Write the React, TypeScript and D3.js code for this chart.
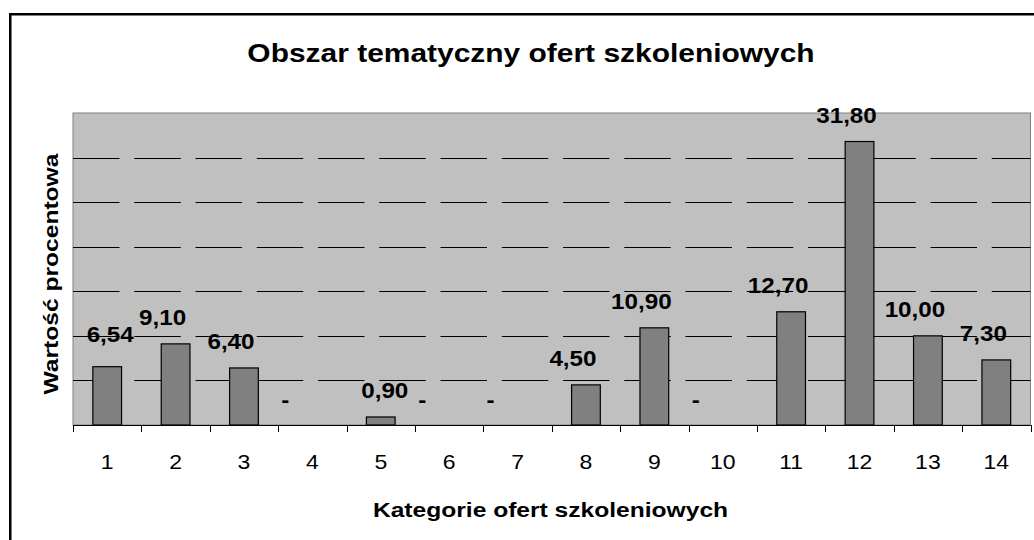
import * as d3 from "d3";
import { useEffect, useRef } from "react";

const categories = ["1", "2", "3", "4", "5", "6", "7", "8", "9", "10", "11", "12", "13", "14"];
const percentValues = [6.54, 9.1, 6.4, 0, 0.9, 0, 0, 4.5, 10.9, 0, 12.7, 31.8, 10.0, 7.3];
const yTicks = [5, 10, 15, 20, 25, 30];

const chartTitle = "Obszar tematyczny ofert szkoleniowych";
const xTitle = "Kategorie ofert szkoleniowych";
const yTitle = "Wartość procentowa";

// hand-moved labels in the original (dx, dy relative to default spot)
const labelNudges: Record<string, [number, number]> = { "1": [16, -6], "5": [17, 0] };

const W = 1034;
const H = 540;
const FONT = "Arial, 'Liberation Sans', sans-serif";

const fmt = (v: number) => (v === 0 ? "-" : v.toFixed(2).replace(".", ","));

const App = () => {
    const svgRef = useRef<SVGSVGElement>(null);

    useEffect(() => {
        const svg = d3.select(svgRef.current);
        svg.selectAll("*").remove();

        const left = 73, right = 1030.5, top = 113, bottom = 425;

        const x = d3.scaleBand<string>()
            .domain(categories)
            .range([left, right])
            .paddingInner(0.58)
            .paddingOuter(0.29);
        const step = x.step();
        const center = (c: string) => (x(c) as number) + x.bandwidth() / 2;

        const y = d3.scaleLinear().domain([0, 35]).range([bottom, top]);

        // the original text renders a bit wider than Liberation Sans, so stretch it
        const stretched = (g: any, tx: number, ty: number, sx: number, rot = 0) =>
            g.append("text")
                .attr("transform", `translate(${tx},${ty}) rotate(${rot}) scale(${sx},1)`)
                .attr("text-anchor", "middle")
                .attr("font-family", FONT)
                .attr("fill", "#000");

        // outer frame
        svg.append("rect")
            .attr("x", 10.25).attr("y", 14.25)
            .attr("width", W).attr("height", H)
            .attr("fill", "#fff")
            .attr("stroke", "#000")
            .attr("stroke-width", 2.5);

        // plot background
        svg.append("rect")
            .attr("x", left).attr("y", top)
            .attr("width", right - left).attr("height", bottom - top)
            .attr("fill", "#c0c0c0")
            .attr("stroke", "#808080")
            .attr("stroke-width", 1);

        // dashed gridlines
        svg.append("g")
            .selectAll("line")
            .data(yTicks)
            .join("line")
            .attr("x1", left).attr("x2", right)
            .attr("y1", d => Math.round(y(d)) + 0.5)
            .attr("y2", d => Math.round(y(d)) + 0.5)
            .attr("stroke", "#000")
            .attr("stroke-width", 1)
            .attr("stroke-dasharray", "46.5,14.75");

        // bars
        svg.append("g")
            .selectAll("rect")
            .data(categories.map((c, i) => ({ c, v: percentValues[i] })).filter(d => d.v > 0))
            .join("rect")
            .attr("x", d => x(d.c) as number)
            .attr("y", d => y(d.v))
            .attr("width", x.bandwidth())
            .attr("height", d => y(0) - y(d.v))
            .attr("fill", "#808080")
            .attr("stroke", "#000")
            .attr("stroke-width", 1.2);

        // x axis line + ticks
        const axis = svg.append("g");
        axis.append("line")
            .attr("x1", left).attr("x2", right)
            .attr("y1", bottom + 0.5).attr("y2", bottom + 0.5)
            .attr("stroke", "#000");
        const bounds = [left, ...categories.map(c => center(c) + step / 2)];
        axis.selectAll(".tick")
            .data(bounds)
            .join("line")
            .attr("class", "tick")
            .attr("x1", d => Math.round(d) + 0.5).attr("x2", d => Math.round(d) + 0.5)
            .attr("y1", bottom).attr("y2", bottom + 7)
            .attr("stroke", "#000");
        categories.forEach(c => {
            stretched(axis, center(c), 469, 1.15)
                .attr("font-size", 20)
                .text(c);
        });

        // data labels
        const labels = svg.append("g");
        categories.forEach((c, i) => {
            const v = percentValues[i];
            const [ndx, ndy] = labelNudges[c] || [0, 0];
            const dx = (v === 0 ? -27 : -13) + ndx;
            stretched(labels, center(c) + dx, y(v) - 18.5 + ndy, 1.1)
                .attr("font-size", 22)
                .attr("font-weight", "bold")
                .text(fmt(v));
        });

        // titles
        stretched(svg, 531, 61.5, 1.13)
            .attr("font-size", 26.5)
            .attr("font-weight", "bold")
            .text(chartTitle);
        stretched(svg, 550.5, 516.5, 1.2)
            .attr("font-size", 20.5)
            .attr("font-weight", "bold")
            .text(xTitle);
        stretched(svg, 57.5, 274, 1.2, -90)
            .attr("font-size", 20.5)
            .attr("font-weight", "bold")
            .text(yTitle);
    }, []);

    return (
        <svg
            ref={svgRef}
            width={W}
            height={H}
            style={{ position: "absolute", left: 0, top: 0, background: "#fff" }}
        />
    );
};

export default App;
